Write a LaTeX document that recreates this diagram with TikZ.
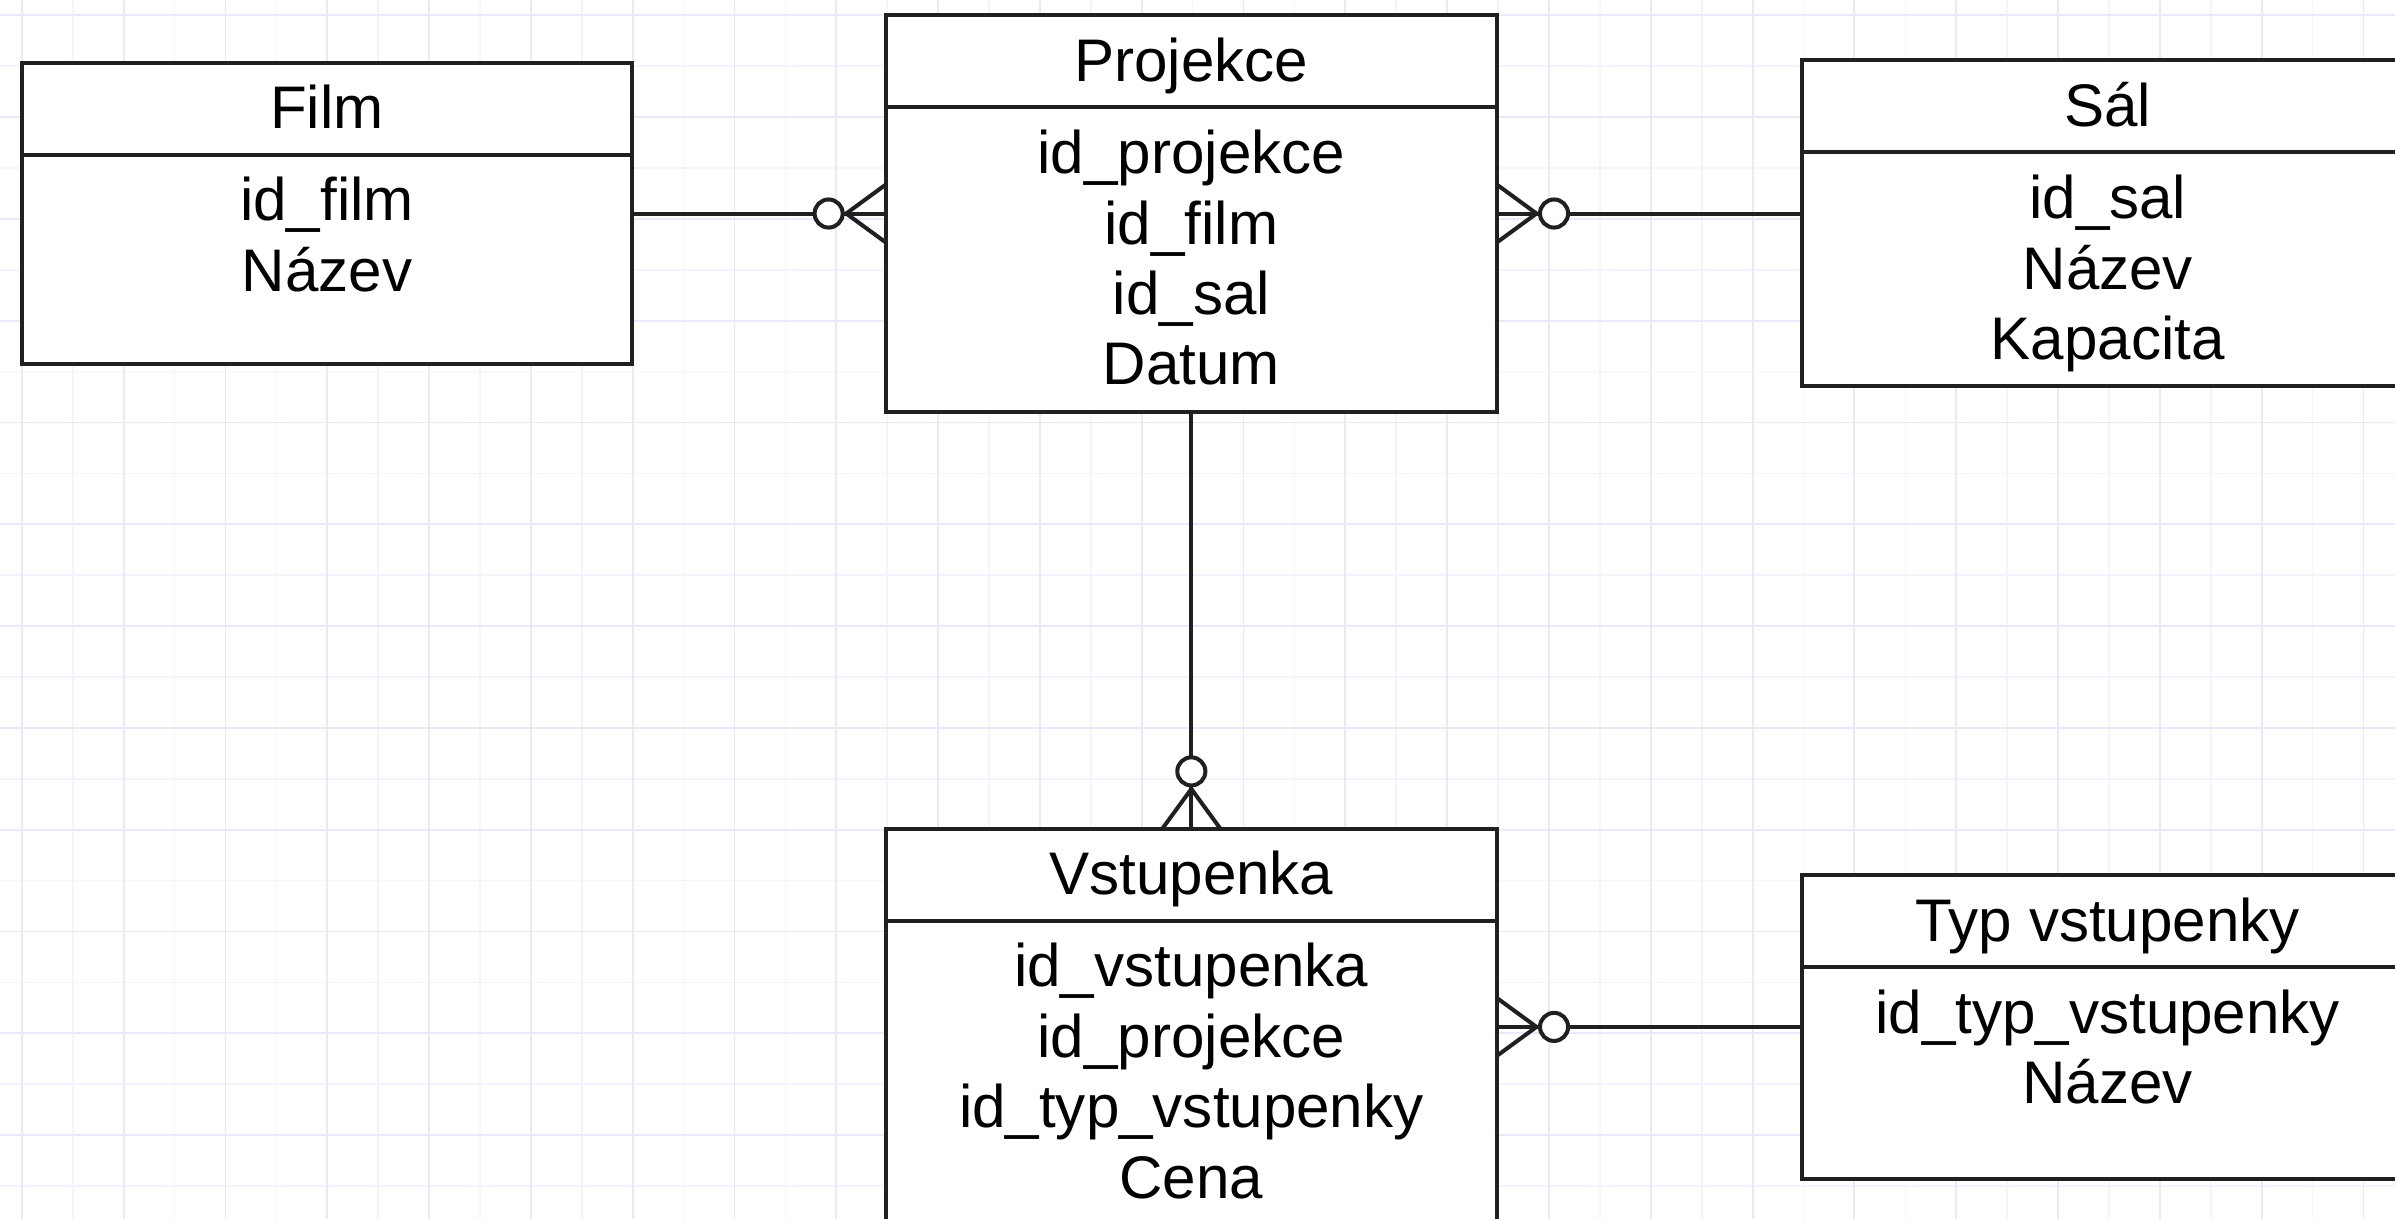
\documentclass[tikz,border=0pt]{standalone}
\usepackage{fontspec}
\setmainfont{Liberation Sans}
\usepackage{tikz}
\usetikzlibrary{positioning, shapes.multipart}

\definecolor{linegray}{RGB}{32,32,32}
\definecolor{gridminor}{RGB}{244,244,254}
\definecolor{gridmajor}{RGB}{233,233,252}

\newcommand{\entfont}{\fontsize{22.4pt}{26.25pt}\selectfont}
\newcommand{\entpart}[2]{\parbox[t][#1][t]{8cm}{\centering\rule{0pt}{0.84cm}#2}}

\tikzset{
  zeromany/.pic={
    \draw[link] (0,19) -- (26,0) -- (0,-19);
    \draw[link, fill=white] (37.5,0) circle[radius=9.2];
  }
}

\begin{document}
\begin{tikzpicture}[
    x=0.02cm, y=0.02cm,
    entity/.style={rectangle split, rectangle split parts=2, draw=linegray, line width=1.5pt, fill=white, inner sep=0pt, outer sep=0pt, font=\entfont},
    link/.style={draw=linegray, line width=1.5pt}
]

\useasboundingbox (0,0) rectangle (1568,-798);
\clip (0,0) rectangle (1568,-798);

\begin{scope}[shift={(14.3,-10)}]
  \draw[gridminor, line width=0.6pt] (-60,-840) grid[step=0.666667cm] (1600,40);
  \draw[gridmajor, line width=0.7pt] (-60,-840) grid[step=1.333333cm] (1600,40);
\end{scope}

\node (proj) [entity, anchor=north west] at (580,-10)
  {\entpart{1.154cm}{Projekce}\nodepart{two}\entpart{3.933cm}{id\_projekce\\id\_film\\id\_sal\\Datum}};

\node (film) [entity, left=3.32cm of proj]
  {\entpart{1.154cm}{Film}\nodepart{two}\entpart{2.693cm}{id\_film\\Název}};

\node (sal) [entity, anchor=north west] at (1180,-39.5)
  {\entpart{1.154cm}{Sál}\nodepart{two}\entpart{3.001cm}{id\_sal\\Název\\Kapacita}};

\node (vst) [entity, below=5.46cm of proj]
  {\entpart{1.154cm}{Vstupenka}\nodepart{two}\entpart{3.933cm}{id\_vstupenka\\id\_projekce\\id\_typ\_vstupenky\\Cena}};

\node (typ) [entity, right=4cm of vst]
  {\entpart{1.154cm}{Typ vstupenky}\nodepart{two}\entpart{2.713cm}{id\_typ\_vstupenky\\Název}};

\draw[link] (film) -- (proj);
\draw[link] (proj.east) -- (proj.east -| sal.west);
\draw[link] (proj) -- (vst);
\draw[link] (vst) -- (typ);

\pic[rotate=180] at (proj.west) {zeromany};
\pic at (proj.east) {zeromany};
\pic[rotate=90] at (vst.north) {zeromany};
\pic at (vst.east) {zeromany};

\end{tikzpicture}
\end{document}
